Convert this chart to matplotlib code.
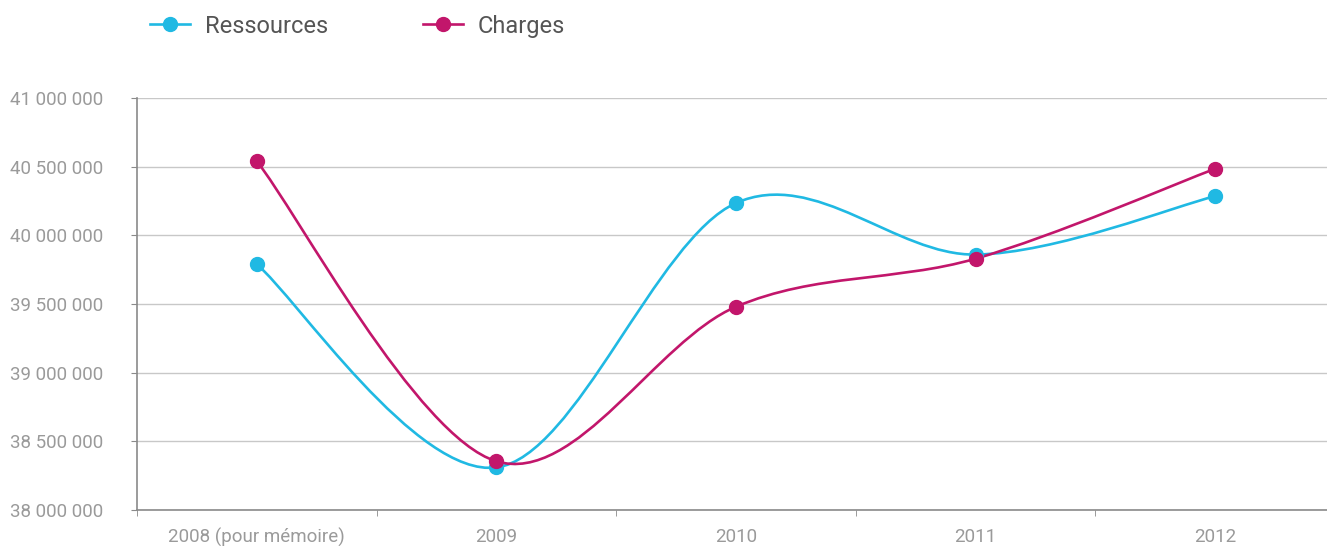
import matplotlib
matplotlib.use("Agg")
import matplotlib.pyplot as plt
import numpy as np
from matplotlib.path import Path
from matplotlib.patches import PathPatch
from matplotlib.lines import Line2D
from matplotlib.ticker import FuncFormatter

# Data
annees = ["2008 (pour mémoire)", "2009", "2010", "2011", "2012"]
ressources = [39790000, 38310000, 40235000, 39860000, 40285000]
charges = [40540000, 38355000, 39480000, 39830000, 40485000]

col_ressources = "#20b9e3"
col_charges = "#c2166b"

plt.rcParams['font.family'] = ['Roboto', 'DejaVu Sans']


def smooth_path(xs, ys):
    # Catmull-Rom style bezier through the points
    xs = np.asarray(xs, float)
    ys = np.asarray(ys, float)
    n = len(xs)
    verts = [(xs[0], ys[0])]
    codes = [Path.MOVETO]
    for i in range(n - 1):
        p0 = i - 1 if i > 0 else i
        p3 = i + 2 if i + 2 < n else i + 1
        c1 = (xs[i] + (xs[i + 1] - xs[p0]) / 6, ys[i] + (ys[i + 1] - ys[p0]) / 6)
        c2 = (xs[i + 1] - (xs[p3] - xs[i]) / 6, ys[i + 1] - (ys[p3] - ys[i]) / 6)
        verts += [c1, c2, (xs[i + 1], ys[i + 1])]
        codes += [Path.CURVE4] * 3
    return Path(verts, codes)


fig = plt.figure(figsize=(13.27, 5.46), dpi=100)
ax = fig.add_axes([0.1032, 0.0659, 0.9028, 0.7546])

x = np.arange(len(annees))
for vals, col in [(ressources, col_ressources), (charges, col_charges)]:
    ax.add_patch(PathPatch(smooth_path(x, vals), facecolor='none', edgecolor=col,
                           lw=1.9, zorder=3, capstyle='round'))
    ax.plot(x, vals, 'o', color=col, markersize=10, zorder=4)

ax.set_xlim(-0.5, 4.5)
ax.set_ylim(38000000, 41000000)
ax.set_yticks(np.arange(38000000, 41000001, 500000))
ax.yaxis.set_major_formatter(FuncFormatter(lambda v, p: f"{v:,.0f}".replace(",", " ")))
ax.set_xticks(x)
ax.set_xticklabels(annees)
ax.set_xticks(np.arange(-0.5, 4.6, 1), minor=True)

ax.grid(axis='y', color='#c8c8c8', lw=1)
ax.set_axisbelow(True)
for s in ['top', 'right']:
    ax.spines[s].set_visible(False)
for s in ['left', 'bottom']:
    ax.spines[s].set_color('#8a8a8a')
    ax.spines[s].set_linewidth(1.2)

ax.tick_params(axis='y', length=4, color='#8a8a8a', pad=20, labelsize=13.5, labelcolor='#9a9a9a')
ax.tick_params(axis='x', which='major', length=0, pad=13, labelsize=13.5, labelcolor='#9a9a9a')
ax.tick_params(axis='x', which='minor', length=4, color='#8a8a8a')

handles = [Line2D([], [], color=col_ressources, lw=1.9, marker='o', markersize=10),
           Line2D([], [], color=col_charges, lw=1.9, marker='o', markersize=10)]
fig.legend(handles, ["Ressources", "Charges"], loc='center left', bbox_to_anchor=(0.097, 0.952),
           ncol=2, frameon=False, fontsize=17, handlelength=1.7, handletextpad=0.63,
           columnspacing=4.0, labelcolor='#555555')

fig.savefig("out.png", dpi=100)
